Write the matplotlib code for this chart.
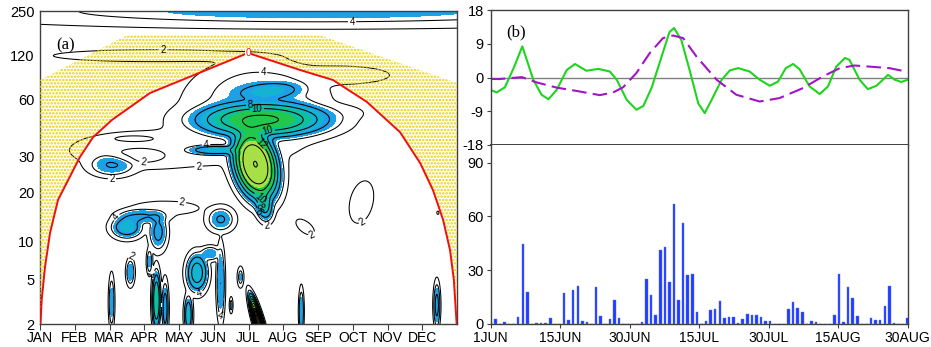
import numpy as np
import matplotlib
matplotlib.use("Agg")
import matplotlib.pyplot as plt

# ---------------- data: panel (a) wavelet power ----------------
months = ['JAN', 'FEB', 'MAR', 'APR', 'MAY', 'JUN', 'JUL', 'AUG', 'SEP', 'OCT', 'NOV', 'DEC']
period_ticks = [2, 5, 10, 20, 30, 60, 120, 250]
period_tick_frac = [0.0, 0.1406, 0.262, 0.4217, 0.5367, 0.7157, 0.859, 1.0]

# power features: centre month, centre period (days),
# half-width (months), half-width (axis fraction), peak power, tilt, flatness
blob_month = [6.4, 6.6, 6.2, 6.45, 5.05, 6.3, 6.0,
              3.3, 8.6, 8.4,
              3.0, 2.7, 2.07,
              5.2, 3.6, 2.5, 3.4, 2.95,
              9.25, 7.63, 11.45,
              2.06, 2.6, 3.15, 3.35, 3.6, 4.27, 4.52, 5.2, 4.9, 5.77, 6.3, 7.52, 11.42, 5.5,
              8.0]
blob_period = [46.9, 69, 27.3, 16.7, 32.3, 61.3, 46.2,
               119, 88, 51.3,
               32.2, 37.2, 27.1,
               13.7, 16.0, 12.3, 11.5, 14.3,
               17.4, 12.3, 15.0,
               3.15, 5.75, 7.0, 3.26, 2.77, 2.43, 5.7, 4.67, 8.1, 5.27, 2.0, 2.6, 2.96, 2.96,
               250]
blob_sx = [1.55, 0.8, 0.5, 0.2, 0.7, 1.5, 2.0,
           2.9, 1.5, 0.9,
           2.1, 0.55, 0.55,
           0.33, 1.1, 0.38, 0.22, 0.6,
           0.35, 0.3, 0.06,
           0.07, 0.1, 0.07, 0.1, 0.08, 0.1, 0.25, 0.1, 0.25, 0.07, 0.1, 0.06, 0.08, 0.04,
           8.0]
blob_su = [0.045, 0.025, 0.09, 0.04, 0.014, 0.1, 0.14,
           0.019, 0.03, 0.025,
           0.06, 0.009, 0.03,
           0.033, 0.025, 0.03, 0.05, 0.02,
           0.07, 0.035, 0.01,
           0.07, 0.035, 0.035, 0.075, 0.07, 0.05, 0.05, 0.1, 0.02, 0.025, 0.06, 0.06, 0.06, 0.02,
           0.04]
blob_amp = [12, 6.5, 16, 9, 7, 4.8, 2.8,
            2.8, 2.7, 2.6,
            3.0, 4.6, 6.0,
            6.2, 2.5, 7.5, 6.5, 6.0,
            2.9, 2.6, 2.3,
            5.5, 6, 5.2, 10, 7, 7.5, 9, 6, 5.5, 5.5, 24, 6, 6.5, 5.3,
            5.8]
blob_tilt = [0, 8, -1.5, -1, 0, 0, 0,
             0, 0, 0,
             0, 0, 0,
             0, 0, 0, 0, 0,
             1.5, -6, 0,
             0, 0, 0, 0, 0, 0, 0, 0, 0, 0, -2.5, 0, 0, 0,
             0]
blob_flat = [1.3, 1.5, 1.4, 1.2, 1.5, 1.5, 1.5,
             1.6, 1.6, 1.5,
             1.4, 2.0, 1.3,
             1.2, 1.6, 1.3, 1.3, 1.5,
             1.3, 1.0, 1.0,
             1.5, 1.3, 1.5, 1.3, 1.3, 1.3, 1.3, 1.5, 1.5, 1.0, 1.2, 1.4, 1.4, 1.0,
             1.0]
# weak spot (closed "2" contour) inside the MAR-MAY band
dip_month, dip_period, dip_sx, dip_su, dip_amp = 2.88, 30.4, 0.6, 0.018, 1.6

# cone of influence (red line)
coi_month = [0.014, 0.049, 0.144, 0.288, 0.518, 1.151, 1.525, 2.072, 3.165, 5.986,
             7.482, 8.432, 9.41, 10.36, 10.94, 11.31, 11.6, 11.8, 11.91, 11.99]
coi_period = [2, 3.3, 6.33, 11.3, 17.9, 29.7, 37.8, 46.9, 66.8, 124.4,
              95.4, 81.7, 58.5, 40.3, 27.7, 20.4, 13.6, 8.6, 5.0, 2]
# upper edge of the dotted region
dot_top_month = [0.0, 2.5, 8.06, 12.0]
dot_top_period = [81.8, 167, 167, 78]

# ---------------- data: panel (b) ----------------
date_labels = ['1JUN', '15JUN', '30JUN', '15JUL', '30JUL', '15AUG', '30AUG']
green_day = [0, 1.3, 3.1, 5.0, 6.9, 9.3, 11.1, 12.6, 14.4, 16.6, 18.4, 20.9, 23.5, 26.0, 27.5,
             29.7, 31.8, 33.3, 35.1, 37.3, 39.0, 40.0, 41.6, 43.4, 45.3, 46.7, 48.2, 50.4, 52.2,
             54.0, 56.5, 58.7, 60.9, 62.7, 64.4, 66.0, 67.4, 69.6, 71.8, 73.6, 75.4, 77.3, 78.3,
             80.5, 82.3, 84.2, 86.7, 88.2, 89.6, 91.0]
green_val = [-3.3, -4.0, -2.6, 2.5, 8.3, -0.6, -4.6, -5.8, -3.3, 2.0, 3.6, 1.8, 2.3, 1.6, -0.6,
             -6.0, -8.6, -7.6, -2.8, 5.6, 12.1, 13.2, 10.0, 2.0, -6.9, -9.5, -6.0, -0.6, 1.9,
             2.5, 1.6, -0.6, -2.2, -1.1, 2.5, 3.6, 2.2, -2.4, -4.4, -2.4, 2.9, 5.2, 4.7,
             -0.6, -3.1, -2.2, 0.7, -0.6, -1.2, -0.6]
purple_day = [0, 2, 6.8, 10, 14.4, 18.8, 23.8, 26.7, 28.9, 31.8, 34.7, 37.6, 39.8, 42, 44.9,
              49.3, 53.6, 58.7, 63, 68.2, 72.5, 76.2, 79.4, 82.7, 87, 91]
purple_val = [-0.4, -0.4, 0.1, -1.3, -2.7, -3.6, -4.7, -4.0, -2.6, 1.2, 6.5, 10.5, 11.2, 10.5, 5.6,
              -0.6, -4.6, -6.4, -5.5, -2.8, 0.3, 2.5, 3.2, 2.9, 2.5, 1.5]
rain = [1.1, 2.4, 0, 0.9, 0, 0, 3.5, 44.5, 17.7, 0, 0.2, 0.2, 0.4, 3.4, 0, 0, 17, 2.2, 18.8, 21.2,
        1.5, 0.9, 0, 20.3, 4.5, 0, 2.6, 13.2, 3.4, 0, 0, 0, 0, 0.9, 25, 16.2, 4.7, 41.4, 43.2, 23.1,
        67, 13.4, 56.6, 27.4, 27.8, 6.7, 0, 1.7, 7.6, 8.4, 12.7, 3.2, 3.5, 3.7, 0.3, 2.6, 5.6, 4.7,
        4.7, 3.5, 1.5, 1.3, 0, 0, 0, 8.2, 12.1, 8.9, 6.3, 0, 1.5, 1.1, 0, 0, 0, 4.7, 27.8, 0.7, 20.5,
        14.3, 4.3, 0, 0, 3.4, 2.2, 2.2, 10, 21.1, 0.3, 0, 0, 3.4]

# ---------------- helpers ----------------
_lp = np.log(period_ticks)


def fwd(p):
    p = np.clip(np.asarray(p, dtype=float), 1e-6, None)
    return np.interp(np.log(p), _lp, period_tick_frac)


def inv(u):
    return np.exp(np.interp(np.asarray(u, dtype=float), period_tick_frac, _lp))


def bump(M, U, bm, bp, sx, su, a, t=0.0, f=1.0):
    uc = fwd(bp)
    xc = bm + t * (U - uc)
    r2 = ((M - xc) / sx) ** 2 + ((U - uc) / su) ** 2
    return a * np.exp(-(r2 / 2.0) ** f)


dot_c = '#e8d000'
plt.rcParams['hatch.color'] = dot_c
plt.rcParams['hatch.linewidth'] = 1.2
sans = ['Liberation Sans', 'DejaVu Sans']
narrow = ['Liberation Sans Narrow', 'Liberation Sans', 'DejaVu Sans']
spine_c = '#404040'

fig = plt.figure(figsize=(9.31, 3.47), dpi=100)
W, H = 931.0, 347.0
axA = fig.add_axes([40 / W, (H - 324) / H, 417 / W, 313 / H])
axB = fig.add_axes([490.7 / W, (H - 145) / H, 417 / W, 135 / H])
axC = fig.add_axes([490.7 / W, (H - 323.7) / H, 417 / W, 178.7 / H])

# ---------------- panel (a) ----------------
mg = np.linspace(0, 12, 721)
ug = np.linspace(0, 1, 601)
M, U = np.meshgrid(mg, ug)
K = 3.0
acc = np.zeros_like(M)
for args in zip(blob_month, blob_period, blob_sx, blob_su, blob_amp, blob_tilt, blob_flat):
    acc += bump(M, U, *args) ** K
Z = acc ** (1.0 / K)
Z -= bump(M, U, dip_month, dip_period, dip_sx, dip_su, dip_amp, 0.0, 2.0)
P = inv(U)

axA.set_yscale('function', functions=(fwd, inv))
fill_levels = [5, 7, 9, 11, 13, 18, 1000]
fill_colors = ['#1ea0e6', '#14b3d4', '#10bf9c', '#22c84c', '#a6e046', '#2a2010']
axA.contourf(M, P, Z, levels=fill_levels, colors=fill_colors)
line_levels = list(range(2, 42, 2))
cs = axA.contour(M, P, Z, levels=line_levels, colors='k', linewidths=0.75)

# dotted region outside the cone of influence
hx = [0.0] + dot_top_month + coi_month[::-1]
hy = [2.0] + dot_top_period + coi_period[::-1]
axA.fill(hx, hy, facecolor='none', edgecolor=dot_c, linewidth=0, hatch='.....', zorder=3)
axA.plot(coi_month, coi_period, color='#ee1010', lw=1.4, zorder=4)
ipk = int(np.argmax(coi_period))
axA.text(coi_month[ipk], coi_period[ipk], '0', color='#ee1010', fontsize=7, ha='center', va='center',
         family=sans, zorder=5, bbox=dict(facecolor='white', edgecolor='none', pad=0.2))

label_pts = [(6.42, 90), (8.98, 218), (3.54, 120), (6.04, 58.8), (6.24, 53.5), (6.57, 39.8),
             (6.38, 35.2), (6.33, 18.4), (6.39, 16.7), (6.3, 15.2), (6.57, 10.9), (7.94, 9.8),
             (9.4, 12.2), (2.97, 27.7), (4.78, 35.2), (4.55, 28.4), (2.07, 22.6), (4.09, 17.6),
             (2.2, 14.1), (2.76, 8.4), (3.26, 5.5), (4.58, 3.81), (5.2, 2.4)]
try:
    lbl = axA.clabel(cs, manual=label_pts, fmt='%d', fontsize=7, inline=True, inline_spacing=1)
    for t in lbl:
        t.set_family(sans)
except Exception:
    pass

axA.set_xlim(0, 12)
axA.set_ylim(2, 250)
axA.set_xticks(np.arange(12))
axA.set_xticklabels(months, family=narrow, fontsize=10)
axA.set_yticks(period_ticks)
axA.set_yticklabels([str(p) for p in period_ticks], family=sans, fontsize=10.5)
axA.yaxis.set_minor_locator(matplotlib.ticker.NullLocator())
axA.tick_params(axis='x', direction='out', length=4, color=spine_c, pad=1)
axA.tick_params(axis='y', length=0, pad=4)
for s in axA.spines.values():
    s.set_color(spine_c)
    s.set_linewidth(1.0)
axA.text(0.04, 0.89, '(a)', transform=axA.transAxes, family=['Liberation Serif', 'DejaVu Serif'],
         fontsize=12, ha='left', va='center', zorder=6)

# ---------------- panel (b) top ----------------
axB.axhline(0, color='#808080', lw=1.0)
axB.plot(green_day, green_val, color='#1fd41f', lw=1.5)
axB.plot(purple_day, purple_val, color='#a214c8', lw=1.5, dashes=(7, 3))
axB.set_xlim(0, 91)
axB.set_ylim(-18, 18)
axB.set_xticks([])
axB.set_yticks([-18, -9, 0, 9, 18])
axB.set_yticklabels(['-18', '-9', '0', '9', '18'], family=sans, fontsize=10.5)
axB.tick_params(axis='y', direction='out', length=3, color=spine_c, pad=2)
for s in axB.spines.values():
    s.set_color(spine_c)
    s.set_linewidth(1.0)
axB.spines['bottom'].set_linewidth(1.4)
axB.text(0.037, 0.833, '(b)', transform=axB.transAxes, family=['Liberation Serif', 'DejaVu Serif'],
         fontsize=12, ha='left', va='center')

# ---------------- panel (b) bottom ----------------
days = np.arange(len(rain))
axC.bar(days, rain, width=0.55, color='#1f3cff', edgecolor='#5a72ff', linewidth=0.3, zorder=2)
axC.set_xlim(0, 91)
axC.set_ylim(0, 100)
axC.set_xticks(np.linspace(0, 91, len(date_labels)))
axC.set_xticklabels(date_labels, family=narrow, fontsize=10)
axC.set_yticks([0, 30, 60, 90])
axC.set_yticklabels(['0', '30', '60', '90'], family=sans, fontsize=10.5)
axC.tick_params(axis='both', direction='out', length=3, color=spine_c, pad=2)
for s in axC.spines.values():
    s.set_color(spine_c)
    s.set_linewidth(1.0)
axC.spines['top'].set_visible(False)

fig.savefig('out.png', dpi=100)
